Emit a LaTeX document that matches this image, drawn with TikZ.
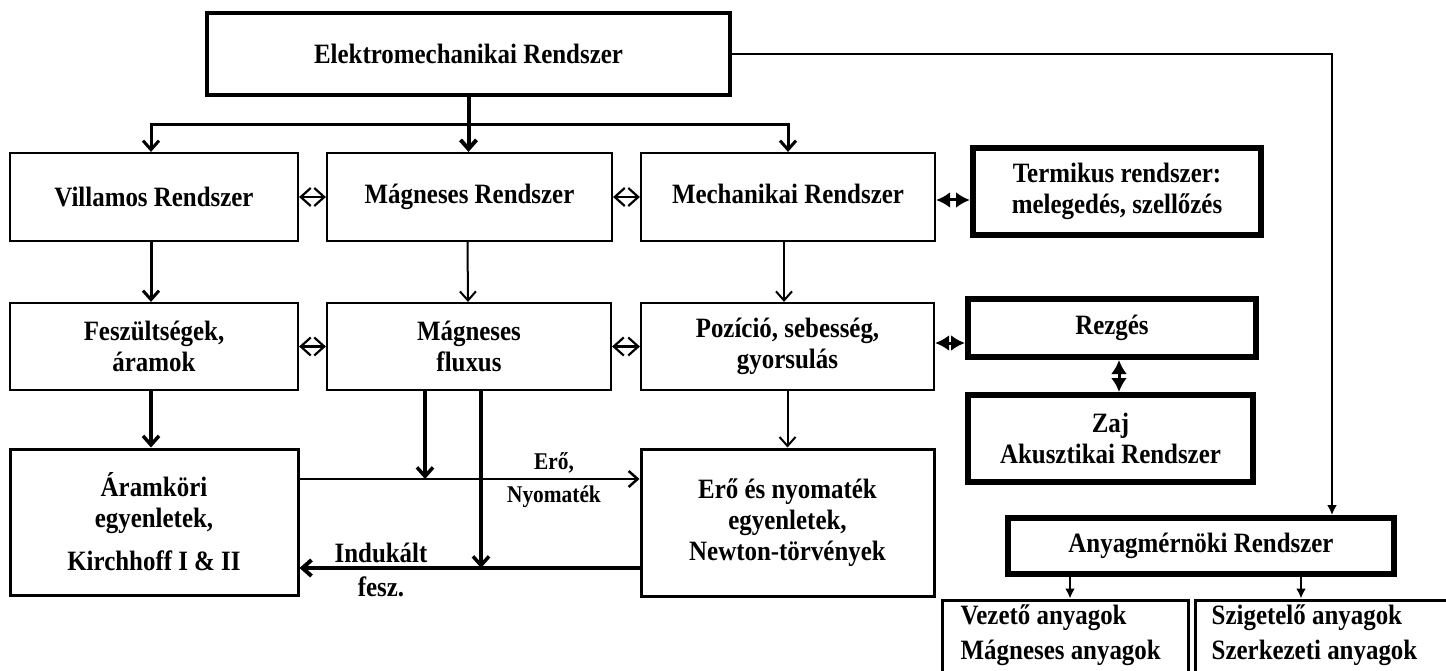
\documentclass[tikz,border=0pt]{standalone}
\usepackage{fontspec}
\setmainfont{Liberation Serif}[FakeStretch=0.89]
\usetikzlibrary{arrows.meta,calc}

\begin{document}
\begin{tikzpicture}[x=1pt,y=-1pt,
  every node/.style={font=\fontsize{28}{31}\selectfont\bfseries, inner sep=0pt},
  box/.style={draw, line width=2.2pt, align=center},
  midbox/.style={draw, line width=3pt, align=center},
  topbox/.style={draw, line width=4pt, align=center},
  heavybox/.style={draw, line width=6pt, align=center},
  lbl/.style={font=\fontsize{28}{31}\selectfont\bfseries},
  smalllbl/.style={font=\fontsize{24}{26}\selectfont\bfseries},
  barb/.style={-{Straight Barb[length=9pt,width=16pt]}},
  twoway/.style={line width=2.2pt,
    {Straight Barb[length=10pt,width=18pt]}-{Straight Barb[length=10pt,width=18pt]}},
  twowayfill/.style={line width=3pt,
    {Latex[length=14pt,width=16pt]}-{Latex[length=14pt,width=16pt]}},
  smalltip/.style={-{Latex[length=10pt,width=10pt]}}
]
\useasboundingbox (0,0) rectangle (1446,671);
\clip (0,0) rectangle (1446,671);

% --- boxes -------------------------------------------------------------
\node[topbox, minimum width=523, minimum height=82] (top) at (468.5,54) {Elektromechanikai Rendszer};

\node[box, minimum width=288, minimum height=88] (villamos) at (154,197) {Villamos Rendszer};
\node[box, minimum width=285, minimum height=88] (magrend) at (469.5,197) {Mágneses Rendszer};
\node[box, minimum width=294, minimum height=88] (mech) at (788,197) {\raisebox{7pt}{Mechanikai Rendszer}};
\node[heavybox, minimum width=288, minimum height=87] (termikus) at (1117,191.5) {Termikus rendszer:\\melegedés, szellőzés};

\node[box, minimum width=288, minimum height=87] (fesz) at (154,346.5) {Feszültségek,\\áramok};
\node[box, minimum width=284, minimum height=87] (fluxus) at (469,346.5) {Mágneses\\fluxus};
\node[box, minimum width=293, minimum height=87] (pozicio) at (787.5,346.5) {Pozíció, sebesség,\\gyorsulás};
\node[heavybox, minimum width=288, minimum height=58] (rezges) at (1112,328) {Rezgés};
\node[heavybox, minimum width=285, minimum height=87] (zaj) at (1110.5,438.5) {Zaj\\Akusztikai Rendszer};

\node[midbox, minimum width=288, minimum height=146] (aramkori) at (154,522) {Áramköri\\egyenletek,\\[12pt]Kirchhoff I \& II};
\node[midbox, minimum width=293, minimum height=147] (ero) at (787.5,522.5) {Erő és nyomaték\\egyenletek,\\Newton-törvények};

\node[heavybox, minimum width=386, minimum height=56] (anyag) at (1201,546) {Anyagmérnöki Rendszer};
\node[midbox, minimum width=246, minimum height=110,
  label={[lbl, align=left, anchor=north west, xshift=20pt, yshift=-6pt]north west:{Vezető anyagok\\[4pt]Mágneses anyagok}}]
  (vezeto) at (1065,655) {};
\node[midbox, minimum width=257, minimum height=110,
  label={[lbl, align=left, anchor=north west, xshift=18pt, yshift=-6pt]north west:{Szigetelő anyagok\\[4pt]Szerkezeti anyagok}}]
  (szig) at (1323.5,655) {};

% --- flow from the top box ---------------------------------------------
\draw[barb, line width=4pt] (top.south) -- (top.south |- magrend.north);
\coordinate (split) at ($(top.south)+(0,28)$);
\draw[barb, line width=3pt] (split) -| ($(villamos.north)+(-3,0)$);
\draw[barb, line width=3pt] (split) -| (mech.north);

\coordinate (corner) at ($(top.east)+(600,0)$);
\draw[smalltip, line width=2pt] (top.east) -- (corner) -- (corner |- anyag.north);

% --- vertical links between rows ----------------------------------------
\draw[barb, line width=3pt] ($(villamos.south)+(-3,0)$) -- ($(fesz.north)+(-3,0)$);
\draw[barb, line width=2pt] ($(magrend.south)+(-2,0)$) -- ($(fluxus.north)+(-1,0)$);
\draw[barb, line width=2pt] ($(mech.south)+(-4,0)$) -- ($(pozicio.north)+(-3.5,0)$);
\draw[barb, line width=3.5pt] ($(fesz.south)+(-3,0)$) -- ($(aramkori.north)+(-3,0)$);
\draw[barb, line width=2pt] (pozicio.south) -- (ero.north);

% --- force and induced voltage paths -------------------------------------
\coordinate (fline) at ($(aramkori.east)+(0,-43)$);
\coordinate (iline) at ($(aramkori.east)+(0,46)$);
\draw[barb, line width=2.5pt] (fline) -- (ero.west |- fline);
\coordinate (f1) at ($(fluxus.south)+(-44,0)$);
\coordinate (f2) at ($(fluxus.south)+(12,0)$);
\draw[barb, line width=3.5pt] (f1) -- (f1 |- fline);
\draw[barb, line width=3.5pt] (f2) -- (f2 |- iline);
\draw[barb, line width=4pt] (ero.west |- iline) -- (iline);

\node[smalllbl] (erolbl) at (554,463) {Erő,};
\node[smalllbl] (nyomlbl) at (554,497) {Nyomaték};
\node[lbl] (indlbl) at (381,553) {Indukált};
\node[lbl] (feszlbl) at (381,587) {fesz.};

% --- two-way couplings ---------------------------------------------------
\draw[twoway] (villamos.east) -- (magrend.west);
\draw[twoway] (magrend.east) -- (mech.west);
\draw[twowayfill] ($(mech.east)+(0,3)$) -- ($(termikus.west |- mech.east)+(0,3)$);
\draw[twoway] (fesz.east) -- (fluxus.west);
\draw[twoway] (fluxus.east) -- (pozicio.west);
\coordinate (pr) at ($(pozicio.east)+(0,-3.5)$);
\draw[twowayfill] (pr) -- (rezges.west |- pr);
\coordinate (rz) at ($(rezges.south)+(7,0)$);
\draw[twowayfill] (rz) -- (rz |- zaj.north);

% --- materials ------------------------------------------------------------
\coordinate (a1) at ($(anyag.south)+(-131,0)$);
\coordinate (a2) at ($(anyag.south)+(100,0)$);
\draw[smalltip, line width=2pt] (a1) -- (a1 |- vezeto.north);
\draw[smalltip, line width=2pt] (a2) -- (a2 |- szig.north);
\end{tikzpicture}
\end{document}
